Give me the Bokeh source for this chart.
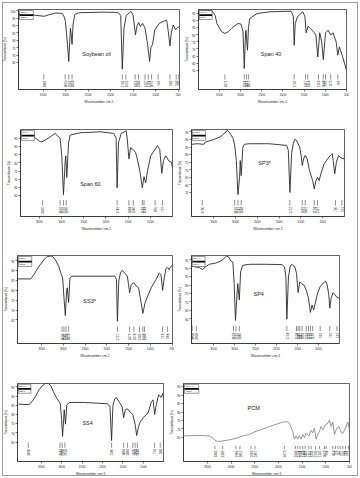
from math import pi
from bokeh.plotting import figure
from bokeh.layouts import column, row
from bokeh.models import Range1d, FixedTicker
from bokeh.core.properties import value
from bokeh.embed import file_html
from bokeh.resources import INLINE

FONT = "Liberation Sans"
X_TICKS = [3500, 3000, 2500, 2000, 1500, 1000, 500]

# ---------------- Soybean oil ----------------
soy_wn = [4047, 3807, 3588, 3478, 3369, 3223, 3077, 3033, 3004, 2960, 2931, 2909, 2894, 2880, 2858,
          2836, 2799, 2712, 2201, 1836, 1777, 1741, 1704, 1653, 1544, 1500, 1449, 1412, 1376, 1339,
          1288, 1237, 1179, 1135, 1106, 1069, 1018, 923, 814, 755, 719, 682, 653, 609, 558, 522, 470]
soy_t = [98.0, 97.4, 96.7, 96.3, 97.4, 98.5, 98.3, 95.9, 92.6, 77.3, 65.7, 79.5, 88.2, 84.9, 77.3,
         90.4, 97.4, 98.7, 99.1, 98.9, 96.9, 60.5, 88.2, 96.9, 99.6, 96.9, 83.8, 90.0, 92.1, 89.3,
         91.5, 88.2, 77.3, 65.7, 75.1, 77.3, 87.1, 91.5, 93.0, 93.7, 86.0, 76.2, 84.9, 90.4, 87.1, 88.6, 89.3]
soy_peaks = [3485, 3010, 2931, 2858, 1741, 1661, 1456, 1383, 1237, 1164, 1091, 945, 682, 543, 485]

# ---------------- Span 40 ----------------
s40_wn = [3995, 3675, 3599, 3561, 3447, 3371, 3294, 3218, 3066, 2990, 2944, 2914, 2891, 2876, 2838,
          2815, 2784, 2609, 2305, 1810, 1756, 1735, 1711, 1657, 1581, 1528, 1482, 1452, 1406, 1353,
          1277, 1223, 1178, 1132, 1086, 1048, 995, 934, 873, 820, 744, 706, 668, 591, 500]
s40_t = [97.4, 96.9, 93.4, 87.9, 82.1, 80.9, 82.1, 84.4, 87.9, 87.5, 82.1, 56.2, 76.2, 83.2, 69.1,
         85.1, 91.5, 95.0, 96.2, 96.6, 93.1, 72.6, 87.9, 92.6, 95.0, 96.2, 92.6, 81.4, 86.1, 84.4,
         82.1, 79.7, 64.4, 81.4, 75.0, 62.5, 81.4, 83.2, 79.7, 81.4, 75.0, 65.6, 71.5, 64.4, 55.0]
s40_peaks = [3371, 2914, 2861, 2815, 1735, 1467, 1414, 1163, 1048, 995, 873, 706]

# ---------------- Span 60 ----------------
s60_wn = [3923, 3787, 3636, 3485, 3447, 3296, 3145, 3032, 2994, 2956, 2919, 2904, 2881, 2843, 2805,
          2579, 2126, 1824, 1771, 1749, 1718, 1658, 1583, 1545, 1522, 1484, 1446, 1393, 1333, 1295,
          1235, 1182, 1144, 1107, 1069, 993, 918, 842, 790, 744, 707, 654, 578, 525, 503]
s60_t = [99.5, 98.9, 96.0, 93.1, 92.7, 95.0, 97.9, 95.0, 84.3, 60.6, 80.4, 84.3, 71.1, 92.1, 96.9,
         98.3, 98.9, 97.9, 95.0, 64.8, 92.1, 97.9, 98.9, 99.5, 95.0, 82.4, 89.2, 88.2, 86.2, 82.4,
         74.6, 64.8, 71.6, 67.8, 74.6, 84.3, 87.2, 90.5, 88.2, 73.6, 81.4, 84.3, 80.8, 80.4, 76.5]
s60_peaks = [3425, 3032, 2956, 2896, 1749, 1484, 1386, 1182, 1144, 895, 729]

# ---------------- SP3* ----------------
sp3_wn = [4006, 3872, 3723, 3686, 3500, 3351, 3240, 3188, 3128, 3054, 3016, 2979, 2942, 2905, 2890,
          2868, 2830, 2793, 2682, 2235, 1826, 1789, 1752, 1714, 1677, 1640, 1603, 1566, 1528, 1491,
          1469, 1439, 1402, 1357, 1305, 1231, 1194, 1156, 1119, 1082, 1045, 970, 859, 784, 762,
          725, 688, 636, 584, 524, 502]
sp3_t = [86.8, 87.2, 86.8, 88.3, 89.9, 91.7, 94.3, 96.1, 94.3, 90.6, 86.1, 76.1, 53.5, 65.0, 76.1,
         66.1, 85.0, 86.8, 87.2, 87.2, 86.1, 82.8, 55.0, 80.6, 87.2, 90.1, 89.5, 87.2, 85.0, 78.4,
         72.8, 77.2, 79.5, 77.2, 69.5, 62.8, 57.3, 62.8, 65.0, 62.8, 67.3, 73.9, 78.4, 80.6, 76.1,
         67.3, 75.0, 79.5, 77.9, 77.2, 78.4]
sp3_peaks = [3760, 3016, 2942, 2868, 1752, 1469, 1402, 1194, 1119, 710, 561]

# ---------------- SS3* ----------------
ss3_wn = [4053, 3750, 3674, 3561, 3447, 3371, 3257, 3182, 3106, 3045, 3015, 2985, 2954, 2924, 2909,
          2878, 2848, 2803, 2499, 1817, 1779, 1757, 1726, 1688, 1650, 1590, 1529, 1476, 1438, 1378,
          1325, 1271, 1226, 1173, 1120, 1074, 983, 870, 794, 756, 718, 680, 642, 604, 567, 529, 491]
ss3_t = [85.8, 85.8, 88.0, 92.2, 95.5, 97.2, 97.5, 95.5, 92.2, 88.0, 86.3, 76.3, 67.2, 79.7, 81.3,
         73.8, 86.3, 87.2, 87.2, 87.2, 85.5, 64.3, 84.7, 88.8, 90.2, 88.8, 87.2, 78.8, 83.0, 83.8,
         82.2, 81.3, 75.5, 68.3, 73.8, 76.3, 81.3, 85.5, 88.8, 88.0, 80.0, 86.3, 91.0, 91.7, 90.5, 92.2, 92.7]
ss3_peaks = [3030, 2985, 2939, 2878, 1757, 1476, 1378, 1249, 1173, 1135, 718, 604]

# ---------------- SP4 ----------------
sp4_wn = [4023, 3908, 3831, 3754, 3715, 3600, 3446, 3331, 3254, 3192, 3139, 3085, 3039, 3008, 2977,
          2946, 2923, 2885, 2854, 2808, 2639, 2254, 1870, 1808, 1777, 1754, 1716, 1677, 1639, 1562,
          1524, 1485, 1447, 1408, 1347, 1293, 1239, 1193, 1155, 1116, 1078, 1024, 962, 885, 832,
          793, 755, 732, 701, 655, 601, 562, 501]
sp4_t = [91.1, 90.7, 90.3, 89.1, 90.3, 92.3, 93.0, 94.2, 95.6, 97.1, 96.6, 94.2, 93.6, 80.9, 59.1,
         72.2, 80.9, 71.2, 87.8, 91.7, 92.3, 92.3, 92.1, 90.7, 84.8, 59.8, 84.8, 90.7, 92.3, 90.7,
         87.0, 75.5, 81.9, 80.9, 80.0, 77.0, 72.2, 63.8, 68.2, 65.3, 69.2, 75.1, 79.0, 81.3, 82.3,
         80.0, 74.1, 66.3, 72.2, 75.5, 74.1, 72.7, 72.2]
sp4_peaks = [4008, 3908, 3023, 2962, 2885, 1754, 1524, 1485, 1447, 1393, 1293, 1239, 1193, 1139, 962, 732, 562]

# ---------------- SS4 ----------------
ss4_wn = [4060, 3804, 3724, 3644, 3564, 3484, 3404, 3324, 3260, 3204, 3124, 3068, 3036, 3004, 2980,
          2956, 2940, 2908, 2876, 2804, 2444, 1884, 1820, 1780, 1748, 1708, 1660, 1604, 1524, 1484,
          1444, 1388, 1324, 1260, 1204, 1164, 1124, 1084, 1004, 884, 804, 764, 724, 684, 628, 564, 524, 508]
ss4_t = [85.6, 85.3, 87.0, 89.7, 93.2, 95.4, 96.8, 96.8, 95.4, 92.3, 88.8, 87.0, 85.8, 77.3, 68.1,
         76.4, 82.6, 74.7, 85.3, 86.5, 86.5, 85.8, 84.4, 65.8, 84.4, 88.3, 89.3, 87.0, 84.4, 78.2,
         82.6, 83.0, 81.2, 80.0, 74.7, 68.5, 72.9, 75.6, 78.2, 80.9, 87.0, 87.9, 80.0, 85.3, 90.6, 89.3, 91.5, 88.8]
ss4_peaks = [3820, 3044, 2988, 2924, 1780, 1484, 1388, 1260, 1204, 1148, 724, 588]

# ---------------- PCM ----------------
pcm_wn = [4008, 3818, 3606, 3465, 3394, 3345, 3288, 3182, 3041, 2900, 2759, 2618, 2476, 2335, 2194,
          2053, 1912, 1806, 1756, 1700, 1664, 1629, 1594, 1559, 1523, 1488, 1453, 1417, 1361, 1311,
          1276, 1241, 1206, 1170, 1135, 1100, 1064, 1008, 958, 923, 888, 853, 817, 768, 725, 676,
          641, 584, 535, 500]
pcm_t = [65.8, 66.1, 66.1, 65.8, 64.8, 63.3, 62.5, 62.9, 63.5, 64.4, 65.8, 66.7, 68.6, 69.9, 71.4,
         72.7, 74.1, 74.2, 72.4, 68.6, 63.9, 65.8, 63.9, 66.1, 63.9, 66.7, 64.8, 67.6, 65.8, 69.1,
         67.6, 70.5, 63.9, 66.7, 68.6, 71.4, 69.5, 72.4, 73.3, 75.2, 71.4, 74.1, 66.7, 70.5, 71.4, 68.0,
         67.3, 70.5, 74.1, 69.5]
pcm_peaks = [3345, 3182, 2900, 2815, 2582, 2497, 1876, 1643, 1594, 1544, 1488, 1439, 1361, 1311,
             1220, 1135, 1029, 994, 853, 796, 747, 697, 641, 584, 521]

names = ["Soybean oil", "Span 40", "Span 60", "SP3*", "SS3*", "SP4", "SS4", "PCM"]
codes = ["SBO", "S40", "S60", "SP3", "SS3", "SP4", "SS4", "PCM"]


def make_panel(wn, tr, peaks, name, code, xr, yr, yticks, w, h, mb, lab, peak_fr, color):
    p = figure(width=w, height=h, x_range=Range1d(*xr), y_range=Range1d(*yr),
               output_backend="svg", toolbar_location=None,
               min_border_left=mb[0], min_border_right=mb[1],
               min_border_top=mb[2], min_border_bottom=mb[3])
    p.grid.visible = False
    p.outline_line_color = "#222222"
    p.outline_line_width = 0.7
    p.background_fill_color = "white"
    p.border_fill_color = None
    for ax in (p.xaxis[0], p.yaxis[0]):
        ax.major_label_text_font = FONT
        ax.major_label_text_font_size = "3px"
        ax.major_label_text_color = "#222222"
        ax.axis_label_text_font = FONT
        ax.axis_label_text_font_style = "normal"
        ax.axis_label_text_color = "#222222"
        ax.axis_line_color = "#222222"
        ax.axis_line_width = 0.6
        ax.major_tick_line_color = "#222222"
        ax.major_tick_line_width = 0.6
        ax.major_tick_out = 2
        ax.major_tick_in = 0
        ax.minor_tick_line_color = None
        ax.major_label_standoff = 1
        ax.axis_label_standoff = 1
    p.xaxis.ticker = FixedTicker(ticks=X_TICKS)
    p.yaxis.ticker = FixedTicker(ticks=yticks)
    p.xaxis.axis_label = "Wavenumber cm-1"
    p.yaxis.axis_label = "Transmittance [%]"
    p.xaxis.axis_label_text_font_size = "3.5px"
    p.yaxis.axis_label_text_font_size = "3px"

    def fx(f):
        return xr[0] + f * (xr[1] - xr[0])

    def fy(f):
        return yr[1] - f * (yr[1] - yr[0])

    # spectrum
    p.line(wn, tr, line_color=color, line_width=0.9, line_join="round")

    # peak markers
    n = len(peaks)
    p.segment(x0=peaks, y0=[fy(peak_fr[0])] * n, x1=peaks, y1=[fy(peak_fr[1])] * n,
              line_color="#444444", line_width=0.6)
    p.text(x=peaks, y=[fy(peak_fr[2])] * n, text=[str(v) for v in peaks], angle=pi / 2,
           text_align="right", text_baseline="middle", text_font=value(FONT),
           text_font_size="3px", text_color="#222222")

    # legend box
    p.quad(left=[fx(0.006)], right=[fx(0.092)], top=[fy(0.012)], bottom=[fy(0.125)],
           fill_color="white", line_color="#333333", line_width=0.5)
    p.segment(x0=[fx(0.006)], y0=[fy(0.07)], x1=[fx(0.092)], y1=[fy(0.07)],
              line_color="black", line_width=1.8)
    p.text(x=[fx(0.012)], y=[fy(0.035)], text=[code + ".0"], text_font=value(FONT),
           text_font_size="2.4px", text_baseline="middle", text_color="#222222")
    p.text(x=[fx(0.012)], y=[fy(0.1)], text=["[" + code + "]"], text_font=value(FONT),
           text_font_size="2.4px", text_baseline="middle", text_color="#222222")

    # sample name
    p.text(x=[fx(lab[0])], y=[fy(lab[1])], text=[name], text_align="center",
           text_baseline="middle", text_font=value(FONT), text_font_size="5.5px",
           text_color="#222222")
    return p


PF = (0.81, 0.875, 0.89)
p1 = make_panel(soy_wn, soy_t, soy_peaks, names[0], codes[0], (4048, 470), (46.7, 100.9),
                [65, 70, 75, 80, 85, 90, 95, 100], 181, 119, (16, 2, 7, 29), (0.485, 0.554), PF, "#2a2a2a")
p2 = make_panel(s40_wn, s40_t, s40_peaks, names[1], codes[1], (3995, 500), (41.4, 97.8),
                [55, 60, 65, 70, 75, 80, 85, 90, 95], 179, 119, (12, 14, 9, 30), (0.49, 0.55), PF, "#2a2a2a")
p3 = make_panel(s60_wn, s60_t, s60_peaks, names[2], codes[2], (3923, 503), (47.3, 100.3),
                [60, 65, 70, 75, 80, 85, 90, 95], 174, 121, (20, 2, 7, 23), (0.46, 0.626), PF, "#2a2a2a")
p4 = make_panel(sp3_wn, sp3_t, sp3_peaks, names[3], codes[3], (4006, 502), (39.1, 96.6),
                [55, 60, 65, 70, 75, 80, 85, 90, 95], 186, 121, (13, 16, 10, 24), (0.478, 0.39), PF, "#2a2a2a")
p5 = make_panel(ss3_wn, ss3_t, ss3_peaks, names[4], codes[4], (4053, 491), (53.0, 97.7),
                [65, 70, 75, 80, 85, 90, 95], 174, 120, (15, 2, 14, 17), (0.465, 0.517), (0.806, 0.869, 0.888), "#2a2a2a")
p6 = make_panel(sp4_wn, sp4_t, sp4_peaks, names[5], codes[5], (4023, 501), (45.4, 97.5),
                [60, 65, 70, 75, 80, 85, 90, 95], 186, 120, (13, 21, 15, 16), (0.454, 0.438), (0.80, 0.861, 0.88), "#2a2a2a")
p7 = make_panel(ss4_wn, ss4_t, ss4_peaks, names[6], codes[6], (4084, 508), (54.4, 96.8),
                [65, 70, 75, 80, 85, 90, 95], 166, 118, (15, 3, 23, 15), (0.48, 0.5), (0.758, 0.825, 0.842), "#2a2a2a")
p8 = make_panel(pcm_wn, pcm_t, pcm_peaks, names[7], codes[7], (4008, 500), (50.7, 96.9),
                [65, 70, 75, 80, 85, 90, 95], 194, 118, (15, 11, 22, 15), (0.423, 0.31), (0.80, 0.84, 0.86), "#8a8a8a")

layout = column(row(p1, p2), row(p3, p4), row(p5, p6), row(p7, p8),
                styles={"background-color": "white",
                        "box-shadow": "inset 0 0 0 2px white, inset 0 0 0 3px #a0a0a0"})

open("out.html", "w").write(file_html(layout, INLINE))
